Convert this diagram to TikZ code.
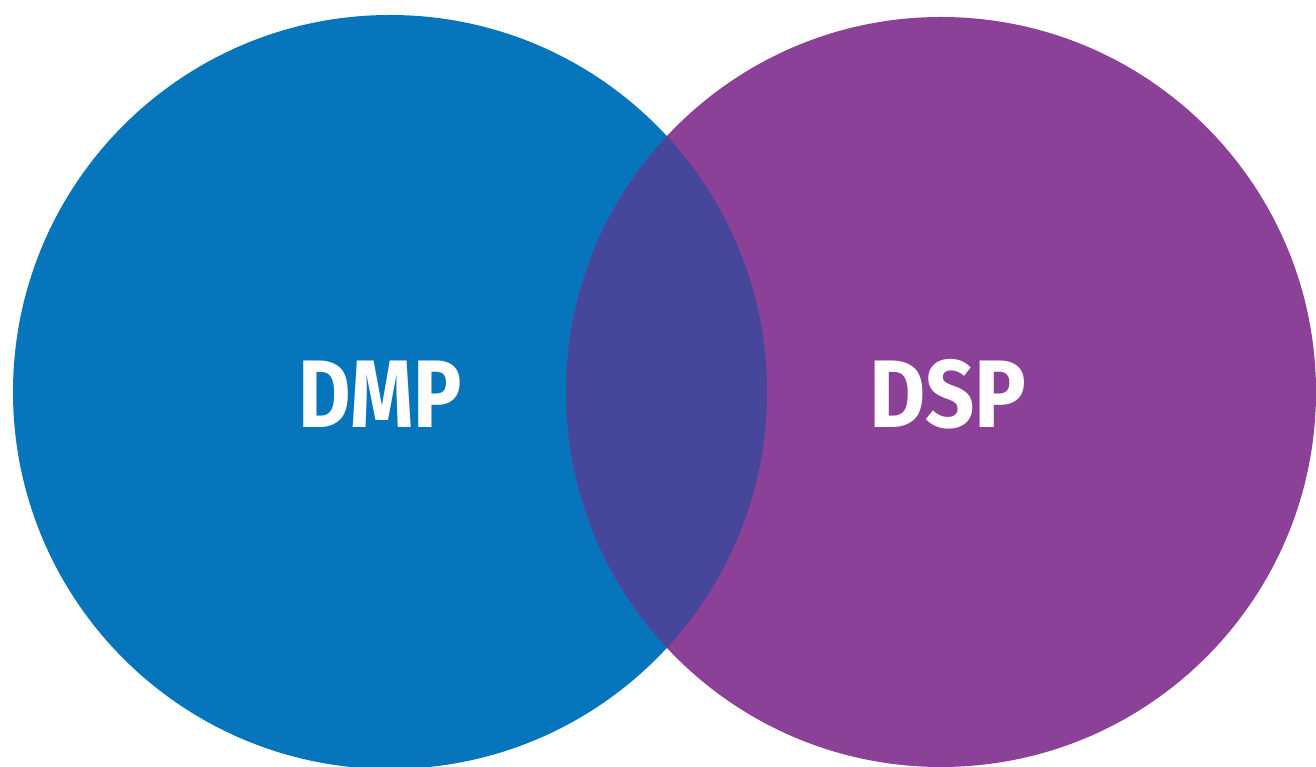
\documentclass[tikz,border=0pt]{standalone}
\usepackage{fontspec}
\setsansfont{Fira Sans}
\usepackage{tikz}
\definecolor{dmpblue}{HTML}{0775BB}
\definecolor{dsppurple}{HTML}{8A4197}
\definecolor{overlap}{HTML}{46479A}
\begin{document}
\begin{tikzpicture}[x=1pt,y=1pt,
    label/.style={text=white,font=\sffamily\bfseries\fontsize{96}{96}\selectfont,inner sep=0pt}]
          \useasboundingbox (0,0) rectangle (1316,767);
          \fill[dmpblue] (390,375) circle (377);
          \fill[dsppurple] (941,375) circle (375);
          \begin{scope}
            \clip (390,375) circle (377);
            \fill[overlap] (941,375) circle (375);
          \end{scope}
          \node[label,xscale=.84] (dmp) at (380,373) {DMP};
          \node[label,xscale=.9] (dsp) at (948,373) {DSP};
        \end{tikzpicture}
\end{document}
